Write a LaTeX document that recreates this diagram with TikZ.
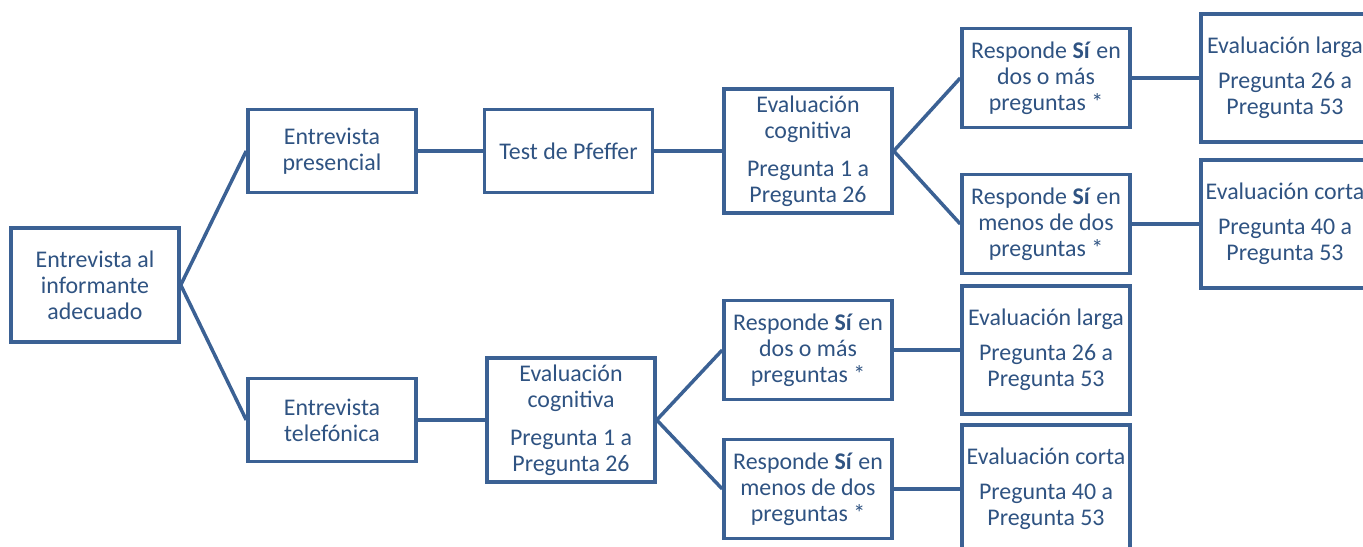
\documentclass[tikz,border=0pt]{standalone}
\usepackage{fontspec}
\setmainfont{Carlito}
\definecolor{boxblue}{HTML}{3B6194}
\definecolor{txtblue}{HTML}{2F5382}
\tikzstyle{link} = [draw=boxblue, line width=2pt]
\newcommand{\si}{\textbf{Sí}}
\usetikzlibrary{positioning}

\begin{document}
\begin{tikzpicture}[x=0.02cm,y=-0.02cm,
      main node/.style={draw=boxblue,line width=2pt,fill=white,text=txtblue,
        align=center,inner sep=1pt,font=\fontsize{13.6}{14.8}\selectfont},
      short node/.style={main node,minimum width=3.36cm,minimum height=1.66cm},
      tall node/.style={main node,minimum width=3.36cm,minimum height=2.48cm},
      answer node/.style={main node,minimum width=3.36cm,minimum height=1.98cm},
      result node/.style={main node,minimum width=3.36cm,minimum height=2.56cm}]

  \clip (0,0) rectangle (1363,547);

  \node[main node,minimum width=3.36cm,minimum height=2.28cm] (ROOT) at (95,285)
    {Entrevista al\\informante\\adecuado};

  % rama presencial
  \node[short node] (EP) at (332,151) {Entrevista\\presencial};
  \node[short node] (PF) [right=1.3cm of EP] {Test de Pfeffer};
  \node[tall node] (EC1) at (808,151)
    {Evaluación\\cognitiva\\[7pt]Pregunta 1 a\\Pregunta 26};
  \node[answer node] (R1) at (1046,78) {Responde \si{} en\\dos o más\\preguntas *};
  \node[answer node] (R2) at (1046,224) {Responde \si{} en\\menos de dos\\preguntas *};
  \node[result node] (L1) at (1285,78) {Evaluación larga\\[5pt]Pregunta 26 a\\Pregunta 53};
  \node[result node] (C1) at (1285,224) {Evaluación corta\\[5pt]Pregunta 40 a\\Pregunta 53};

  % rama telefonica
  \node[short node] (ET) at (332,420) {Entrevista\\telefónica};
  \node[tall node] (EC2) at (571,420)
    {Evaluación\\cognitiva\\[7pt]Pregunta 1 a\\Pregunta 26};
  \node[answer node] (R3) at (808,350) {Responde \si{} en\\dos o más\\preguntas *};
  \node[answer node] (R4) at (808,489) {Responde \si{} en\\menos de dos\\preguntas *};
  \node[result node] (L2) at (1046,350) {Evaluación larga\\[5pt]Pregunta 26 a\\Pregunta 53};
  \node[result node] (C2) at (1046,489) {Evaluación corta\\[5pt]Pregunta 40 a\\Pregunta 53};

  \path[link]
    (ROOT.east) edge (EP.west)
    (ROOT.east) edge (ET.west)
    (EP) edge (PF)
    (PF) edge (EC1)
    (EC1.east) edge (R1.west)
    (EC1.east) edge (R2.west)
    (ET) edge (EC2)
    (EC2.east) edge (R3.west)
    (EC2.east) edge (R4.west);
  \foreach \a/\b in {R1/L1,R2/C1,R3/L2,R4/C2}{\path[link] (\a) edge (\b);}
\end{tikzpicture}
\end{document}
